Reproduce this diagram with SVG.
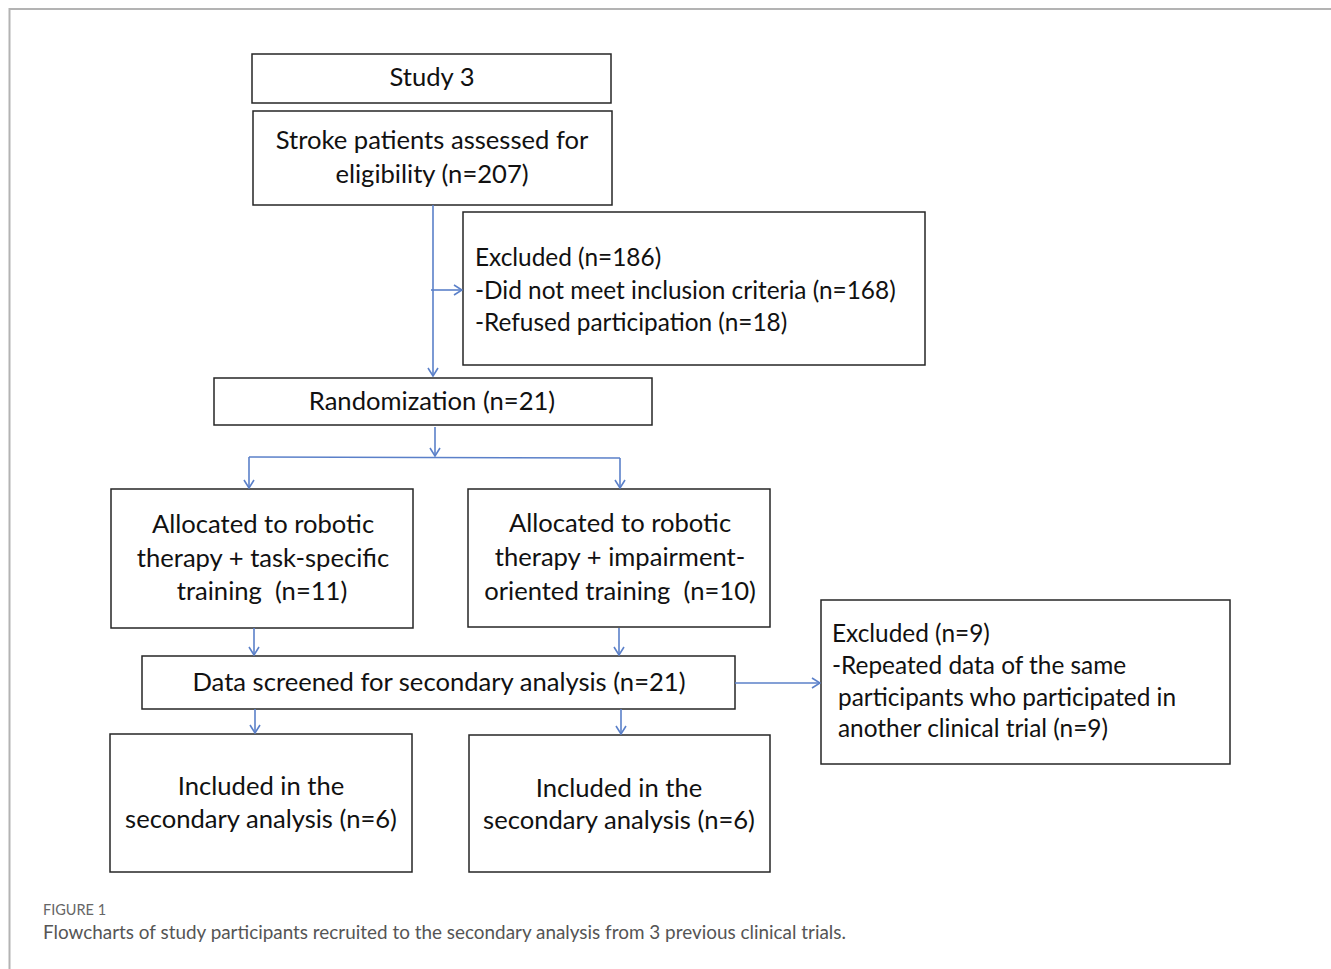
<svg xmlns="http://www.w3.org/2000/svg" width="1331" height="969" viewBox="0 0 1331 969">
<style>
.frame{fill:none;stroke:#b3b3b3;stroke-width:2}
.box{fill:#fff;stroke:#262626;stroke-width:1.5}
.t{font-family:Lato,"Open Sans","Liberation Sans",sans-serif;font-size:25.6px;fill:#111;white-space:pre}
.s{font-size:24.4px}
.c{text-anchor:middle}
.con{fill:none;stroke:#5b80c9;stroke-width:1.6}
.cap1{font-family:Lato,"Open Sans",sans-serif;font-size:14.5px;fill:#666}
.cap2{font-family:Lato,"Open Sans",sans-serif;font-size:18.9px;fill:#555}
</style>
<defs>
<marker id="ah" viewBox="0 0 10 12" refX="9" refY="6" markerWidth="10" markerHeight="12" markerUnits="userSpaceOnUse" orient="auto">
<path d="M1,1 L9,6 L1,11" fill="none" stroke="#5b80c9" stroke-width="1.6"/>
</marker>
</defs>
<rect width="1331" height="969" fill="#fff"/>
<path class="frame" d="M1331,9 H9.5 V969"/>

<g id="study3"><rect class="box" x="252" y="54" width="359" height="49"/><text class="t c" x="432" y="86">Study 3</text></g>
<g id="assessed"><rect class="box" x="253" y="111" width="359" height="94"/><text class="t c" x="432" y="149">Stroke patients assessed for</text><text class="t c" x="432" y="183">eligibility (n=207)</text></g>
<g id="excluded1"><rect class="box" x="463" y="212" width="462" height="153"/><text class="t s" x="475" y="266">Excluded (n=186)</text><text class="t s" x="475" y="299">-Did not meet inclusion criteria (n=168)</text><text class="t s" x="475" y="331">-Refused participation (n=18)</text></g>
<g id="randomization"><rect class="box" x="214" y="378" width="438" height="47"/><text class="t c" x="432" y="410">Randomization (n=21)</text></g>
<g id="alloc1"><rect class="box" x="111" y="489" width="302" height="139"/><text class="t c" x="263" y="533">Allocated to robotic</text><text class="t c" x="263" y="567">therapy + task-specific</text><text class="t c" x="262" y="600">training  (n=11)</text></g>
<g id="alloc2"><rect class="box" x="468" y="489" width="302" height="138"/><text class="t c" x="620" y="532">Allocated to robotic</text><text class="t c" x="620" y="566">therapy + impairment-</text><text class="t c" x="620" y="600">oriented training  (n=10)</text></g>
<g id="screened"><rect class="box" x="142" y="656" width="593" height="53"/><text class="t c" x="439" y="691">Data screened for secondary analysis (n=21)</text></g>
<g id="excluded2"><rect class="box" x="821" y="600" width="409" height="164"/><text class="t s" x="832" y="642">Excluded (n=9)</text><text class="t s" x="832" y="674">-Repeated data of the same</text><text class="t s" x="838" y="706">participants who participated in</text><text class="t s" x="838" y="737">another clinical trial (n=9)</text></g>
<g id="incl1"><rect class="box" x="110" y="734" width="302" height="138"/><text class="t c" x="261" y="795">Included in the</text><text class="t c" x="261" y="828">secondary analysis (n=6)</text></g>
<g id="incl2"><rect class="box" x="469" y="735" width="301" height="137"/><text class="t c" x="619" y="797">Included in the</text><text class="t c" x="619" y="829">secondary analysis (n=6)</text></g>

<g id="connectors">
<path class="con" d="M433,205 V376" marker-end="url(#ah)"/>
<path class="con" d="M431,290 H462" marker-end="url(#ah)"/>
<path class="con" d="M435,427 V456" marker-end="url(#ah)"/>
<path class="con" d="M249,457 L620,458"/>
<path class="con" d="M249,457 V488" marker-end="url(#ah)"/>
<path class="con" d="M620,458 V488" marker-end="url(#ah)"/>
<path class="con" d="M254,628 V655" marker-end="url(#ah)"/>
<path class="con" d="M619,628 V655" marker-end="url(#ah)"/>
<path class="con" d="M255,709 V733" marker-end="url(#ah)"/>
<path class="con" d="M621,709 V734" marker-end="url(#ah)"/>
<path class="con" d="M735,683 H820" marker-end="url(#ah)"/>
</g>

<text class="cap1" x="43" y="915">FIGURE 1</text>
<text class="cap2" x="43" y="939">Flowcharts of study participants recruited to the secondary analysis from 3 previous clinical trials.</text>
</svg>
